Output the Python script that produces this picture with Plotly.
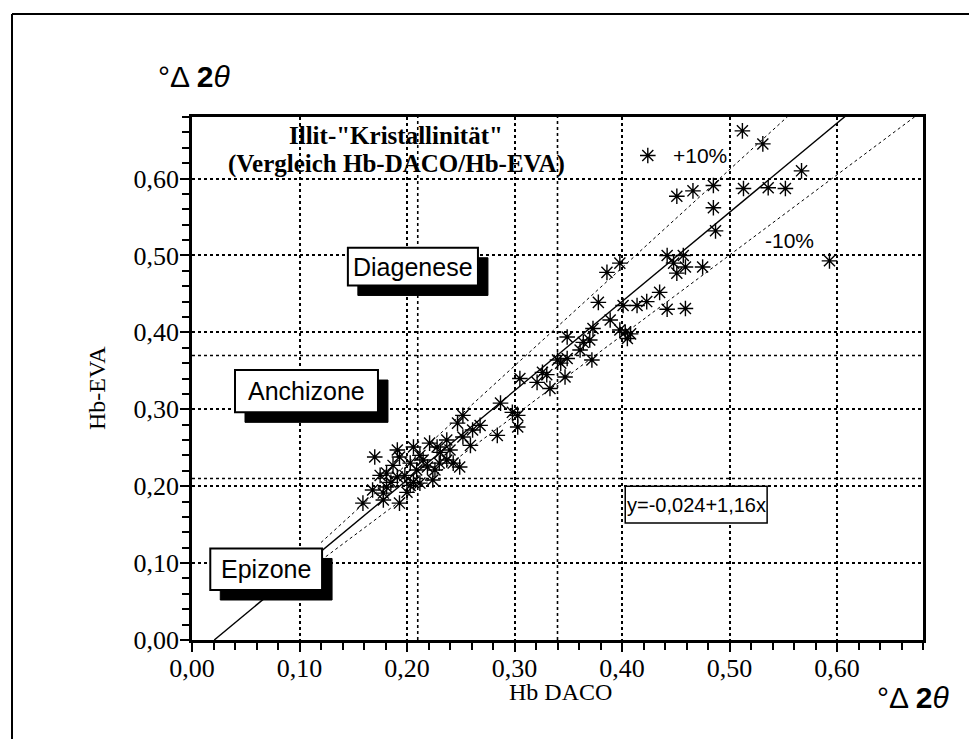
import plotly.graph_objects as go

# ---------------- data ----------------
hb_daco = [0.170, 0.191, 0.206, 0.221, 0.237, 0.252, 0.261, 0.252, 0.187, 0.203,
           0.219, 0.237, 0.249, 0.175, 0.191, 0.206, 0.224, 0.168, 0.181, 0.200,
           0.247, 0.228, 0.243, 0.193, 0.181, 0.215, 0.209, 0.178,
           0.287, 0.298, 0.303, 0.303, 0.268, 0.284, 0.305, 0.321, 0.333, 0.347,
           0.326, 0.340, 0.349, 0.372, 0.361, 0.364, 0.370, 0.349, 0.403, 0.405,
           0.373, 0.389, 0.378, 0.401, 0.414, 0.442, 0.459,
           0.159, 0.178, 0.193, 0.203, 0.212,
           0.424, 0.451, 0.466, 0.485, 0.485, 0.487, 0.442, 0.457, 0.448, 0.459,
           0.475, 0.451, 0.386, 0.398, 0.423, 0.435,
           0.231, 0.212, 0.198, 0.240, 0.259, 0.226,
           0.512, 0.531, 0.513, 0.536, 0.552, 0.567, 0.593,
           0.398, 0.408, 0.343, 0.330, 0.185, 0.230]
hb_eva = [0.238, 0.247, 0.251, 0.256, 0.260, 0.264, 0.273, 0.292, 0.227, 0.230,
          0.225, 0.234, 0.225, 0.214, 0.212, 0.205, 0.208, 0.195, 0.199, 0.192,
          0.282, 0.251, 0.230, 0.238, 0.217, 0.234, 0.221, 0.191,
          0.308, 0.296, 0.292, 0.277, 0.279, 0.266, 0.340, 0.335, 0.327, 0.342,
          0.348, 0.364, 0.366, 0.364, 0.377, 0.387, 0.390, 0.394, 0.400, 0.392,
          0.405, 0.416, 0.439, 0.435, 0.435, 0.430, 0.431,
          0.178, 0.182, 0.178, 0.201, 0.204,
          0.630, 0.577, 0.584, 0.591, 0.562, 0.532, 0.500, 0.500, 0.490, 0.485,
          0.485, 0.477, 0.478, 0.490, 0.440, 0.452,
          0.244, 0.240, 0.214, 0.247, 0.253, 0.221,
          0.662, 0.645, 0.587, 0.588, 0.587, 0.610, 0.493,
          0.403, 0.398, 0.360, 0.345, 0.205, 0.230]

intercept = -0.024
slope = 1.16
band = 0.10

tick_vals = [0.0, 0.1, 0.2, 0.3, 0.4, 0.5, 0.6]
tick_text = ["0,00", "0,10", "0,20", "0,30", "0,40", "0,50", "0,60"]
zone_x = [0.21, 0.34]
zone_y = [0.21, 0.37]

BLACK = "#000000"
SERIF = "Liberation Serif, Times New Roman, serif"
SANS = "Liberation Sans, Arial, sans-serif"

# plot area in pixels (for paper-positioned texts)
L, R, T, B = 192, 923, 117, 640


def px(xp):
    return (xp - L) / (R - L)


def py(yp):
    return (B - yp) / (B - T)


fig = go.Figure()

# regression line and +/-10 % band
x_start = -intercept / slope
x_end = 0.72
fig.add_trace(go.Scatter(x=[x_start, x_end],
                         y=[intercept + slope * x_start, intercept + slope * x_end],
                         mode="lines", line=dict(color=BLACK, width=1.4),
                         hoverinfo="skip"))
for f in (1 + band, 1 - band):
    xs = [0.12, x_end]
    fig.add_trace(go.Scatter(x=xs, y=[f * (intercept + slope * v) for v in xs],
                             mode="lines",
                             line=dict(color=BLACK, width=1, dash="dot"),
                             hoverinfo="skip"))

# measured samples
fig.add_trace(go.Scatter(x=hb_daco, y=hb_eva, mode="markers",
                         marker=dict(symbol="asterisk-open", size=13, color=BLACK,
                                     line=dict(color=BLACK, width=1.4))))

axis_common = dict(
    range=[0, 0.68], tickvals=tick_vals, ticktext=tick_text,
    ticks="outside", ticklen=9, tickwidth=2, tickcolor=BLACK,
    showline=True, linewidth=2.5, linecolor=BLACK, mirror=True,
    showgrid=True, gridcolor=BLACK, gridwidth=1.6, griddash="dot",
    zeroline=False, tickfont=dict(family=SERIF, size=26, color=BLACK),
    minor=dict(dtick=0.02, tick0=0, ticks="outside", ticklen=7,
               tickwidth=1.6, tickcolor=BLACK, showgrid=False),
)
xaxis = dict(axis_common, ticklabelstandoff=-6)
yaxis = dict(axis_common, ticklabelstandoff=-4)

shapes = []
# extra zone boundary grid lines
for zx in zone_x:
    shapes.append(dict(type="line", xref="x", yref="y", x0=zx, x1=zx, y0=0, y1=0.68,
                       line=dict(color=BLACK, width=1.6, dash="dot"), layer="below"))
for zy in zone_y:
    shapes.append(dict(type="line", xref="x", yref="y", x0=0, x1=0.68, y0=zy, y1=zy,
                       line=dict(color=BLACK, width=1.6, dash="dot"), layer="below"))

# labelled boxes with drop shadow
dx, dy = 0.0093, 0.013
boxes = [
    ("Diagenese", 0.145, 0.266, 0.461, 0.510),
    ("Anchizone", 0.040, 0.173, 0.296, 0.351),
    ("Epizone", 0.017, 0.121, 0.065, 0.119),
]
annotations = []
for label, x0, x1, y0, y1 in boxes:
    shapes.append(dict(type="rect", xref="x", yref="y", x0=x0 + dx, x1=x1 + dx,
                       y0=y0 - dy, y1=y1 - dy, fillcolor=BLACK,
                       line=dict(color=BLACK, width=1), layer="above"))
    shapes.append(dict(type="rect", xref="x", yref="y", x0=x0, x1=x1, y0=y0, y1=y1,
                       fillcolor="white", line=dict(color=BLACK, width=2),
                       layer="above"))
    annotations.append(dict(x=(x0 + x1) / 2, y=(y0 + y1) / 2, xref="x", yref="y",
                            xanchor="center", yanchor="middle",
                            text=label, showarrow=False,
                            font=dict(family=SANS, size=25, color=BLACK)))

# equation box
shapes.append(dict(type="rect", xref="x", yref="y", x0=0.403, x1=0.535,
                   y0=0.152, y1=0.200, fillcolor="white",
                   line=dict(color=BLACK, width=1.5), layer="above"))
annotations.append(dict(x=0.469, y=0.176, xref="x", yref="y",
                        xanchor="center", yanchor="middle",
                        text="y=-0,024+1,16x", showarrow=False,
                        font=dict(family=SANS, size=20, color=BLACK)))

annotations += [
    dict(x=0.473, y=0.630, xref="x", yref="y", text="+10%", showarrow=False,
         xanchor="center", yanchor="middle",
         font=dict(family=SANS, size=21, color=BLACK)),
    dict(x=0.556, y=0.520, xref="x", yref="y", text="-10%", showarrow=False,
         xanchor="center", yanchor="middle",
         font=dict(family=SANS, size=21, color=BLACK)),
    dict(x=0.190, y=py(135) * 0.68, xref="x", yref="y",
         text="<b>Illit-\"Kristallinität\"</b>",
         xanchor="center", yanchor="middle",
         showarrow=False, font=dict(family=SERIF, size=25, color=BLACK)),
    dict(x=0.190, y=py(164) * 0.68, xref="x", yref="y",
         text="<b>(Vergleich Hb-DACO/Hb-EVA)</b>",
         xanchor="center", yanchor="middle",
         showarrow=False, font=dict(family=SERIF, size=25, color=BLACK)),
    # axis titles
    dict(x=px(97), y=py(388), xref="paper", yref="paper",
         xanchor="center", yanchor="middle",
         text="Hb-EVA", textangle=-90, showarrow=False,
         font=dict(family=SERIF, size=24, color=BLACK)),
    dict(x=px(560), y=py(692), xref="paper", yref="paper",
         xanchor="center", yanchor="middle",
         text="Hb DACO", showarrow=False,
         font=dict(family=SERIF, size=24, color=BLACK)),
    # unit labels
    dict(x=px(194), y=py(76), xref="paper", yref="paper",
         xanchor="center", yanchor="middle",
         text="°Δ <b>2</b><i>θ</i>", showarrow=False,
         font=dict(family=SANS, size=30, color=BLACK)),
    dict(x=px(913), y=py(697), xref="paper", yref="paper",
         xanchor="center", yanchor="middle",
         text="°Δ <b>2</b><i>θ</i>", showarrow=False,
         font=dict(family=SANS, size=30, color=BLACK)),
]

# outer frame (left and top edges visible)
shapes.append(dict(type="line", xref="paper", yref="paper",
                   x0=px(12), x1=px(12), y0=py(14), y1=py(745),
                   line=dict(color=BLACK, width=2)))
shapes.append(dict(type="line", xref="paper", yref="paper",
                   x0=px(12), x1=px(975), y0=py(14), y1=py(14),
                   line=dict(color=BLACK, width=2)))

fig.update_layout(
    width=969, height=739,
    margin=dict(l=L, r=969 - R, t=T, b=739 - B),
    paper_bgcolor="white", plot_bgcolor="white",
    showlegend=False,
    xaxis=xaxis, yaxis=yaxis,
    shapes=shapes, annotations=annotations,
)

fig.write_html("out.html")
